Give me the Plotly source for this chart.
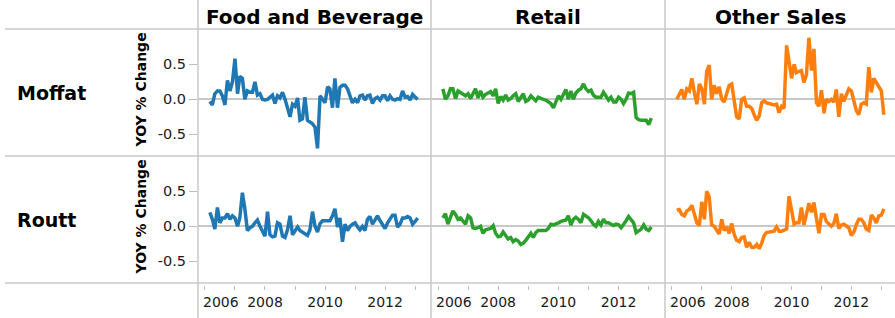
import pandas as pd
import plotly.graph_objects as go

# ---------------- data ----------------
months = pd.date_range('2006-03-01', '2013-02-01', freq='MS')  # 84 monthly points
counties = ['Moffat', 'Routt']
categories = ['Food and Beverage', 'Retail', 'Other Sales']
year_ticks = ['2006-01-01', '2007-01-01', '2008-01-01', '2009-01-01',
              '2010-01-01', '2011-01-01', '2012-01-01', '2013-01-01']
year_text = ['', '', '2008', '', '2010', '', '2012', '']
y_tickvals = [-0.5, 0.0, 0.5]
y_ticktext = ['-0.5', '0.0', '0.5']

food_moffat = [
    -0.03, -0.08, 0.08, 0.12, 0.12, 0.05, -0.08, 0.27, 0.12, 0.25,
    0.58, 0.08, 0.33, 0.30, 0.00, 0.12, 0.10, 0.10, 0.25, 0.06,
    0.08, 0.00, -0.01, 0.00, 0.03, 0.06, -0.06, 0.05, 0.02, 0.10,
    0.00, -0.12, -0.25, -0.07, -0.10, 0.02, -0.30, -0.28, 0.03, -0.30,
    -0.32, -0.35, -0.40, -0.70, 0.05, 0.00, -0.05, 0.18, 0.15, -0.12,
    0.30, -0.12, 0.17, 0.20, 0.20, 0.15, 0.05, -0.05, 0.00, -0.05,
    0.05, 0.06, -0.01, 0.05, 0.06, -0.06, 0.01, 0.03, -0.01, 0.05,
    0.05, -0.02, 0.05, 0.00, -0.01, 0.01, 0.00, 0.12, 0.03, 0.04,
    -0.01, 0.07, 0.03, 0.00]
food_routt = [
    0.20, 0.10, -0.04, 0.27, 0.05, 0.12, 0.12, 0.18, 0.10, 0.15,
    0.12, 0.00, 0.12, 0.48, 0.25, -0.06, -0.02, 0.00, 0.05, 0.09,
    0.00, -0.07, -0.14, 0.21, -0.12, -0.15, -0.14, 0.05, 0.03, -0.14,
    -0.16, -0.05, 0.15, -0.12, -0.07, -0.01, -0.06, -0.08, -0.10, -0.13,
    -0.05, 0.21, 0.00, -0.08, 0.04, 0.08, 0.08, 0.08, 0.08, 0.15,
    0.25, -0.01, 0.12, -0.22, 0.03, -0.06, 0.00, 0.03, 0.05, -0.01,
    -0.05, 0.00, -0.06, 0.10, 0.14, 0.03, 0.10, 0.15, 0.08, 0.03,
    -0.03, 0.05, 0.10, 0.16, 0.16, -0.01, 0.03, 0.12, 0.12, 0.14,
    0.12, 0.03, 0.07, 0.12]
retail_moffat = [
    0.15, 0.00, 0.05, 0.15, 0.15, 0.01, 0.12, 0.10, 0.08, 0.05,
    0.08, 0.01, 0.08, 0.15, 0.02, 0.12, 0.03, 0.07, 0.09, 0.11,
    0.05, 0.15, -0.06, 0.04, -0.01, 0.06, -0.01, 0.01, 0.05, 0.08,
    -0.03, 0.03, 0.08, -0.03, -0.01, 0.05, 0.02, -0.02, 0.03, 0.01,
    0.00, -0.01, -0.03, -0.06, -0.12, -0.04, 0.05, 0.00, 0.07, 0.14,
    0.00, 0.12, 0.00, 0.09, 0.13, 0.15, 0.22, 0.15, 0.11, 0.13,
    0.06, 0.03, 0.03, 0.03, 0.10, 0.05, -0.01, 0.03, -0.04, -0.04,
    0.03, 0.00, -0.06, 0.00, 0.09, 0.08, 0.10, -0.26, -0.29, -0.30,
    -0.30, -0.30, -0.36, -0.27]
retail_routt = [
    0.12, 0.18, 0.03, 0.12, 0.22, 0.17, 0.10, 0.12, 0.08, 0.03,
    0.15, 0.12, -0.02, -0.03, -0.02, 0.00, -0.10, -0.05, -0.04, -0.03,
    0.01, -0.10, -0.15, -0.14, -0.08, -0.14, -0.18, -0.16, -0.22, -0.19,
    -0.21, -0.26, -0.24, -0.20, -0.14, -0.10, -0.16, -0.09, -0.06, -0.06,
    -0.05, -0.06, -0.03, 0.03, 0.02, 0.03, 0.05, 0.07, 0.08, 0.09,
    0.15, 0.02, 0.10, 0.13, 0.10, 0.05, 0.17, 0.15, 0.12, 0.08,
    0.03, 0.00, 0.07, 0.02, 0.10, 0.05, 0.05, 0.03, 0.01, 0.03,
    0.02, -0.02, 0.02, 0.08, 0.14, 0.10, 0.05, -0.09, -0.07, -0.04,
    0.02, -0.04, -0.06, -0.01]
other_moffat = [
    0.00, 0.07, 0.14, 0.00, 0.15, 0.12, 0.30, 0.10, -0.07, 0.22,
    0.15, -0.07, 0.40, 0.49, 0.00, 0.20, 0.08, 0.18, 0.00, -0.04,
    0.10, 0.20, 0.22, 0.00, -0.25, -0.28, 0.00, 0.02, -0.10, -0.10,
    -0.13, -0.22, -0.30, -0.24, -0.05, -0.02, -0.05, -0.06, -0.07, -0.08,
    -0.07, -0.19, -0.10, -0.13, 0.77, 0.50, 0.30, 0.50, 0.38, 0.40,
    0.41, 0.24, 0.35, 0.88, 0.41, 0.72, -0.05, -0.10, 0.13, -0.20,
    0.00, -0.03, 0.00, -0.04, 0.14, -0.25, 0.08, -0.03, 0.05, 0.15,
    0.12, -0.05, -0.16, -0.22, -0.07, -0.05, -0.07, 0.46, 0.10, 0.30,
    0.24, 0.18, 0.12, -0.22]
other_routt = [
    0.23, 0.24, 0.17, 0.15, 0.22, 0.24, 0.30, 0.18, 0.05, 0.01,
    0.35, 0.10, 0.50, 0.42, 0.02, 0.00, -0.05, -0.11, 0.10, -0.06,
    -0.01, -0.10, 0.04, -0.12, -0.20, -0.22, -0.16, -0.15, -0.30, -0.23,
    -0.30, -0.30, -0.26, -0.32, -0.24, -0.13, -0.09, -0.08, -0.08, -0.07,
    -0.01, -0.07, -0.07, -0.06, -0.04, 0.43, 0.20, 0.03, 0.05, 0.05,
    0.27, 0.02, 0.17, 0.33, 0.20, 0.34, 0.11, -0.10, 0.17, 0.17,
    0.07, 0.04, 0.00, 0.04, 0.18, -0.03, 0.02, 0.03, 0.00, -0.02,
    -0.13, -0.08, 0.02, 0.10, 0.10, 0.05, -0.04, -0.06, 0.16, 0.12,
    0.05, 0.15, 0.16, 0.25]

series = {
    ('Moffat', 'Food and Beverage'): food_moffat,
    ('Moffat', 'Retail'): retail_moffat,
    ('Moffat', 'Other Sales'): other_moffat,
    ('Routt', 'Food and Beverage'): food_routt,
    ('Routt', 'Retail'): retail_routt,
    ('Routt', 'Other Sales'): other_routt,
}
colors = {'Food and Beverage': '#1f77b4', 'Retail': '#2ca02c', 'Other Sales': '#ff7f0e'}

# ---------------- layout geometry (pixels) ----------------
W, H = 895, 318
def px_x(p):
    return p / W
def px_y(p):
    return 1 - p / H

col_px = [(198, 431), (431, 665), (665, 895)]
row_px = [(29, 156), (156, 283)]
x_ranges = [['2005-10-08', '2013-07-13'],
            ['2005-10-08', '2013-07-17'],
            ['2005-10-08', '2013-06-17']]
y_range = [-0.81, 1.005]

FONT = 'DejaVu Sans'
GRAY = '#c8c8c8'
TICKGRAY = '#bdbdbd'

fig = go.Figure()
layout = {}
annotations = []
shapes = []

for r, county in enumerate(counties):
    for c, cat in enumerate(categories):
        k = r * 3 + c + 1
        fig.add_trace(go.Scatter(
            x=months, y=series[(county, cat)], mode='lines',
            line=dict(color=colors[cat], width=3.5),
            xaxis=f'x{k}', yaxis=f'y{k}', showlegend=False,
            hovertemplate='%{x|%b %Y}: %{y:.2f}<extra></extra>'))
        xa = dict(domain=[px_x(col_px[c][0]), px_x(col_px[c][1])],
                  range=x_ranges[c], type='date', showgrid=False,
                  zeroline=False, showline=False, fixedrange=True)
        if r == 1:
            xa.update(anchor='free', position=px_y(285),
                      tickmode='array', tickvals=year_ticks, ticktext=year_text,
                      ticks='outside', ticklen=4, tickwidth=1, tickcolor=TICKGRAY,
                      tickfont=dict(family=FONT, size=14, color='#1a1a1a'),
                      showticklabels=True)
        else:
            xa.update(anchor=f'y{k}', showticklabels=False, ticks='')
        ya = dict(domain=[px_y(row_px[r][1]), px_y(row_px[r][0])],
                  range=y_range, anchor=f'x{k}', showgrid=False,
                  zeroline=True, zerolinecolor=GRAY, zerolinewidth=1.5,
                  showline=False, fixedrange=True)
        if c == 0:
            ya.update(tickmode='array', tickvals=y_tickvals, ticktext=y_ticktext,
                      ticks='outside', ticklen=8, tickwidth=1, tickcolor=TICKGRAY,
                      tickfont=dict(family=FONT, size=14.5, color='#1a1a1a'))
        else:
            ya.update(showticklabels=False, ticks='')
        layout[f'xaxis{k}' if k > 1 else 'xaxis'] = xa
        layout[f'yaxis{k}' if k > 1 else 'yaxis'] = ya

# column headers
for c, cat in enumerate(categories):
    annotations.append(dict(
        text=f'<b>{cat}</b>', xref='paper', yref='paper',
        x=px_x((col_px[c][0] + col_px[c][1]) / 2), y=px_y(17),
        xanchor='center', yanchor='middle', showarrow=False,
        font=dict(family=FONT, size=20, color='#000000')))

# row headers and axis titles
for r, county in enumerate(counties):
    yc = (row_px[r][0] + row_px[r][1]) / 2
    annotations.append(dict(
        text=f'<b>{county}</b>', xref='paper', yref='paper',
        x=px_x(15), y=px_y(yc), xanchor='left', yanchor='middle',
        showarrow=False, font=dict(family=FONT, size=19, color='#000000')))
    annotations.append(dict(
        text='<b>YOY % Change</b>', xref='paper', yref='paper',
        x=px_x(140), y=px_y(yc - 2), xanchor='center', yanchor='middle',
        textangle=-90, showarrow=False,
        font=dict(family=FONT, size=14, color='#000000')))

# first year label, kept inside its pane
for c in range(3):
    k = 4 + c
    annotations.append(dict(
        text='2006', xref=f'x{k}', yref='paper', x=year_ticks[0], y=px_y(302),
        xanchor='left', yanchor='middle', xshift=-4, showarrow=False,
        font=dict(family=FONT, size=14, color='#1a1a1a')))

# separators
for yp in [29, 156, 283]:
    shapes.append(dict(type='line', xref='paper', yref='paper',
                       x0=px_x(5), x1=1, y0=px_y(yp), y1=px_y(yp),
                       line=dict(color=GRAY, width=1.5), layer='below'))
for xp in [198, 431, 665]:
    shapes.append(dict(type='line', xref='paper', yref='paper',
                       x0=px_x(xp), x1=px_x(xp), y0=0, y1=1,
                       line=dict(color=GRAY, width=1.5), layer='below'))

fig.update_layout(
    width=W, height=H, autosize=False,
    margin=dict(l=0, r=0, t=0, b=0),
    paper_bgcolor='white', plot_bgcolor='white',
    annotations=annotations, shapes=shapes,
    **layout)

fig.write_html('out.html', config={'displayModeBar': False},
               post_script="document.body.style.margin='0';"
                           "document.body.style.padding='0';"
                           "document.body.style.overflow='hidden';")
